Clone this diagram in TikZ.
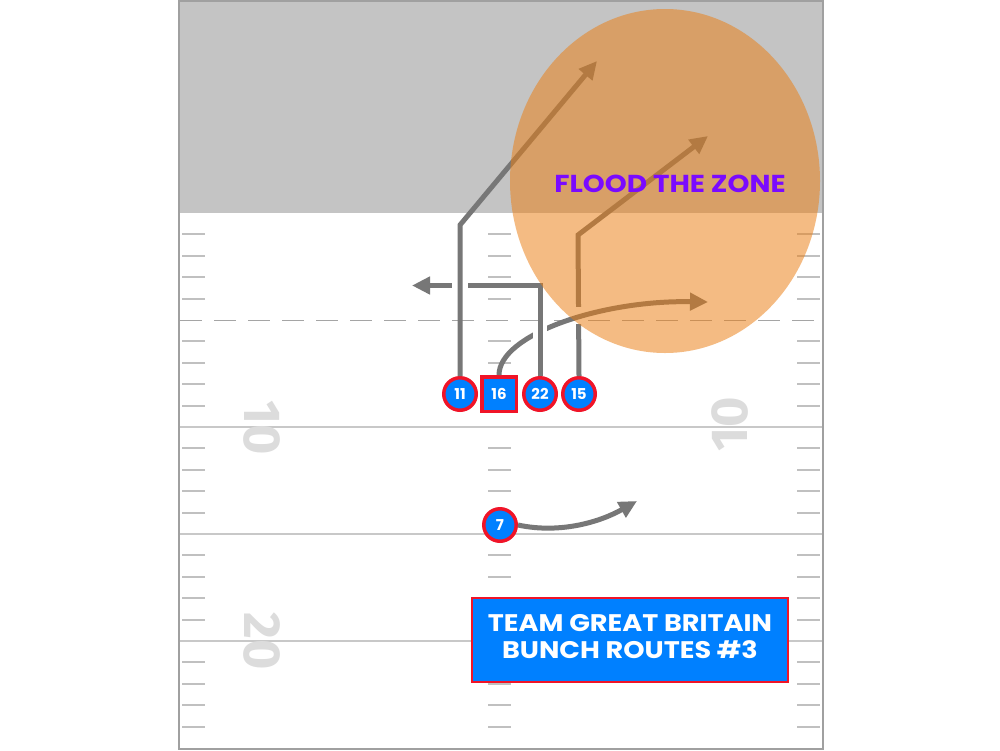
\documentclass[tikz,border=0pt]{standalone}
\usepackage{fontspec}
\setmainfont{Fira Sans}
\newfontfamily\labelfont{Poppins}
\usetikzlibrary{arrows.meta,calc}
\definecolor{routegray}{RGB}{119,119,119}
\definecolor{endzone}{RGB}{196,196,196}
\definecolor{bordergray}{RGB}{160,160,160}
\definecolor{yardline}{RGB}{200,200,200}
\definecolor{hashgray}{RGB}{192,192,192}
\definecolor{dashgray}{RGB}{165,165,165}
\definecolor{numgray}{RGB}{220,220,220}
\definecolor{pblue}{RGB}{0,128,255}
\definecolor{pred}{RGB}{240,20,40}
\definecolor{zoneorange}{RGB}{235,126,18}
\definecolor{zonepurple}{RGB}{122,10,255}
\tikzset{
  player/.style={circle, draw=pred, fill=pblue, line width=3.5pt, minimum size=32.5pt, inner sep=0pt, text=white, font=\labelfont\fontsize{15}{15}\selectfont\bfseries},
  qbsquare/.style={rectangle, draw=pred, fill=pblue, line width=3.5pt, minimum size=34.5pt, inner sep=0pt, text=white, font=\labelfont\fontsize{15}{15}\selectfont\bfseries},
  route/.style={draw=routegray, line width=5pt},
  routearrow/.style={route, -{Triangle[length=18pt,width=17pt]}},
  halo/.style={draw=white, line width=15pt},
  hashmark/.style={draw=hashgray, line width=2pt},
  yardln/.style={draw=yardline, line width=2pt},
  yardnum/.style={text=numgray, font=\fontsize{52}{52}\selectfont\bfseries, inner sep=0pt},
}
\begin{document}
\begin{tikzpicture}[x=1pt,y=-1pt]
\useasboundingbox (0,0) rectangle (1000,750);
\fill[white] (0,0) rectangle (1000,750);
% end zone
\fill[endzone] (179,0) rectangle (823,213);
% yard lines
\foreach \yy in {427,534,641} \draw[yardln] (179,\yy) -- (823,\yy);
% hash marks
\foreach \k in {1,2,3,4,6,7,8,9,11,12,13,14,16,17,18,19,21,22,23,24} {
  \draw[hashmark] (182,{213+21.4*\k}) -- (205,{213+21.4*\k});
  \draw[hashmark] (488,{213+21.4*\k}) -- (511,{213+21.4*\k});
  \draw[hashmark] (797,{213+21.4*\k}) -- (820,{213+21.4*\k});
}
% line to gain
\draw[dashgray, line width=1pt, dash pattern=on 22pt off 12pt] (180,320) -- (822,320);
% yard numbers
\node[yardnum, rotate=-90] (n10l) at (262,428) {10};
\node[yardnum, rotate=-90] (n20l) at (262,641) {20};
\node[yardnum, rotate=90] (n10r) at (730,424) {10};
% border
\draw[bordergray, line width=2pt] (179,1) rectangle (822.5,748.5);
% players
\node[player] (p11) at (460,394) {11};
\node[qbsquare] (p16) at (499,394) {16};
\node[player] (p22) at (540,394) {22};
\node[player] (p15) at (579,394) {15};
\node[player] (p7) at (500,525) {7};
% route coordinates
\coordinate (b11) at (460,225);
\coordinate (t11) at (597,61);
\coordinate (b15) at (578,235);
\coordinate (t15) at (708,136);
\coordinate (b22) at (540,285.5);
\coordinate (t22) at (412,285.5);
\coordinate (t16) at (708,302);
\coordinate (t7) at (637,501);
% route 15
\draw[routearrow] (p15.north) -- (b15) -- (t15);
\draw[halo, line width=9pt] (579,307) -- (579,324);
% route 16
\draw[routearrow] (p16.north) .. controls (499,335) and (600,300) .. (t16);
\draw[halo, line width=14pt] (540,322) -- (540,345);
% route 22
\draw[routearrow] (p22.north) -- (b22) -- (t22);
\draw[halo, line width=16pt] (460,277) -- (460,294);
% route 11
\draw[routearrow] (p11.north) -- (b11) -- (t11);
% route 7
\draw[routearrow] (p7.east) .. controls (560,534) and (600,522) .. (t7);
% zone
\fill[zoneorange, fill opacity=0.52] (665,181) ellipse [x radius=155, y radius=172];
\node[text=zonepurple, font=\labelfont\fontsize{24.5}{24.5}\selectfont\bfseries, inner sep=0pt] (zlabel) at (670,184) {\scalebox{1.14}[1]{FLOOD THE ZONE}};
% title
\node[rectangle, draw=pred, fill=pblue, line width=2pt, minimum width=316pt, minimum height=84pt, inner sep=0pt, text=white, font=\labelfont\fontsize{24}{27}\selectfont\bfseries] (title) at (630,640) {\raisebox{4pt}{\scalebox{1.13}[1]{\begin{tabular}{@{}c@{}}TEAM GREAT BRITAIN\\BUNCH ROUTES \#3\end{tabular}}}};
\end{tikzpicture}
\end{document}
